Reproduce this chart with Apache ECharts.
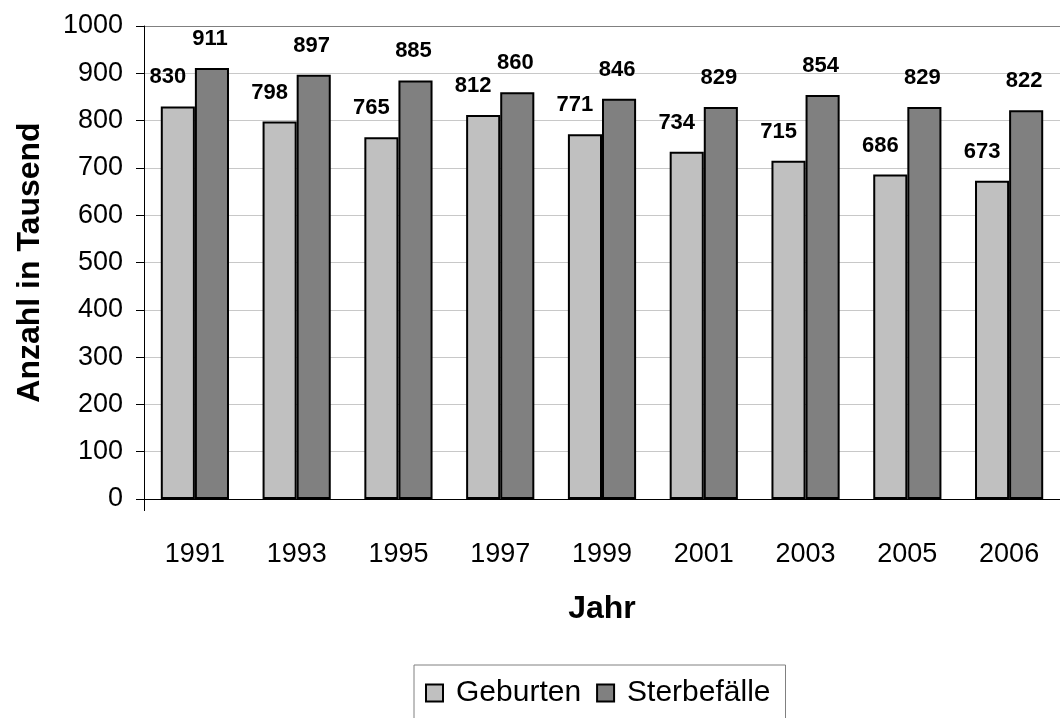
<!DOCTYPE html>
<html>
<head>
<meta charset="utf-8">
<script src="https://cdn.jsdelivr.net/npm/echarts@6/dist/echarts.min.js"></script>
<style>
html,body{margin:0;padding:0;background:#fff;}
#chart{width:1060px;height:718px;}
</style>
</head>
<body>
<div id="chart"></div>
<script>
const years = ['1991','1993','1995','1997','1999','2001','2003','2005','2006'];
const geburten = [830, 798, 765, 812, 771, 734, 715, 686, 673];
const sterbefaelle = [911, 897, 885, 860, 846, 829, 854, 829, 822];
const seriesNames = ['Geburten', 'Sterbefälle'];
const yAxisTitle = 'Anzahl in Tausend';
const xAxisTitle = 'Jahr';

const FONT = 'Arial, "Liberation Sans", sans-serif';
const chart = echarts.init(document.getElementById('chart'), null, {renderer: 'canvas'});

const gridColors = [];
for (let i = 0; i < 10; i++) gridColors.push('#c8c8c8');
gridColors.push('#808080');

const labelStyle = (dx) => ({
  show: true,
  position: 'top',
  distance: 18,
  offset: [dx, 0],
  fontFamily: FONT,
  fontWeight: 'bold',
  fontSize: 22,
  color: '#000'
});

chart.setOption({
  backgroundColor: '#ffffff',
  animation: false,
  grid: { left: 144, top: 26, right: -6, bottom: 219, containLabel: false },
  legend: {
    data: seriesNames,
    left: 414,
    top: 665,
    orient: 'horizontal',
    icon: 'rect',
    itemWidth: 17,
    itemHeight: 17,
    itemGap: 15,
    padding: [13, 15, 14, 11],
    borderColor: '#808080',
    borderWidth: 1,
    backgroundColor: '#fff',
    textStyle: { fontFamily: FONT, fontSize: 30, color: '#000', padding: [0, 0, 0, 8] }
  },
  xAxis: {
    type: 'category',
    data: years,
    boundaryGap: true,
    name: xAxisTitle,
    nameLocation: 'middle',
    nameGap: 94,
    nameTextStyle: { fontFamily: FONT, fontWeight: 'bold', fontSize: 32, color: '#000' },
    axisLine: { show: true, lineStyle: { color: '#000', width: 1 } },
    axisTick: { show: true, length: 12, lineStyle: { color: '#000' }, interval: function (i) { return i === 0; } },
    axisLabel: { margin: 42, fontFamily: FONT, fontSize: 27, color: '#000' },
    splitLine: { show: false }
  },
  yAxis: {
    type: 'value',
    min: 0,
    max: 1000,
    interval: 100,
    name: yAxisTitle,
    nameLocation: 'middle',
    nameRotate: 90,
    nameGap: 98,
    nameTextStyle: { fontFamily: FONT, fontWeight: 'bold', fontSize: 32, color: '#000' },
    axisLine: { show: true, lineStyle: { color: '#000', width: 1 } },
    axisTick: { show: true, length: 8, lineStyle: { color: '#000' } },
    axisLabel: { margin: 21, fontFamily: FONT, fontSize: 27, color: '#000', formatter: function (v) { return String(v); } },
    splitLine: { show: true, lineStyle: { color: gridColors, width: 1 } }
  },
  series: [
    {
      name: seriesNames[0],
      type: 'bar',
      data: geburten,
      barGap: '0%',
      barCategoryGap: '33%',
      itemStyle: { color: '#c0c0c0', borderColor: '#000', borderWidth: 2 },
      label: labelStyle(-10)
    },
    {
      name: seriesNames[1],
      type: 'bar',
      data: sterbefaelle,
      barGap: '0%',
      barCategoryGap: '33%',
      itemStyle: { color: '#808080', borderColor: '#000', borderWidth: 2 },
      label: labelStyle(-2)
    }
  ]
});
</script>
</body>
</html>
